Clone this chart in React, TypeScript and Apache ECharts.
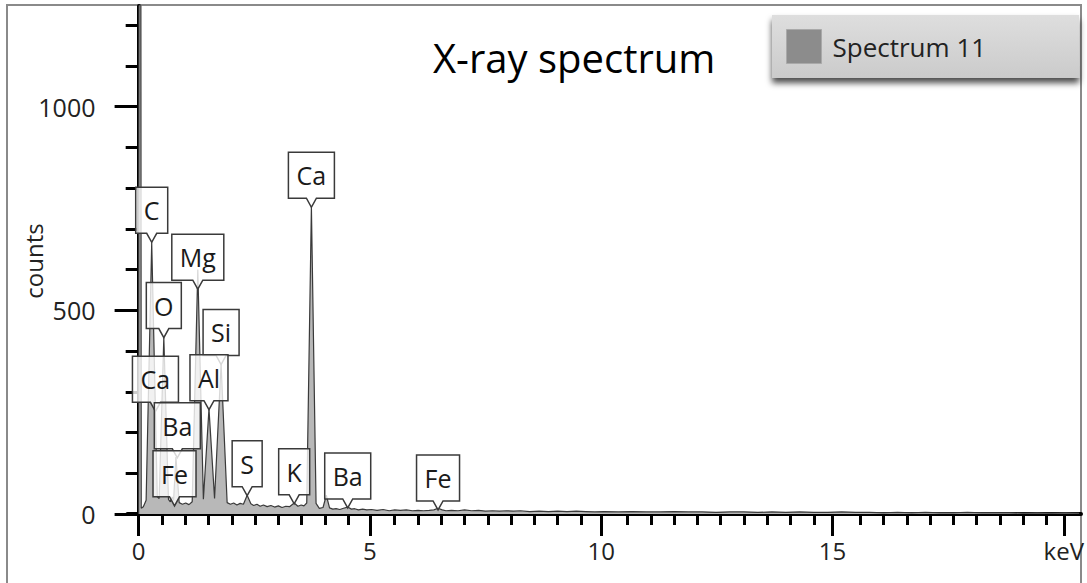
import React, { useEffect, useRef } from "react";
import * as echarts from "echarts";

// Spectrum: [energy keV, counts]
const spectrum: [number, number][] = [
  [0.0, 0], [0.025, 5000], [0.055, 14], [0.1, 18], [0.16, 34], [0.28, 667], [0.4, 42],
  [0.44, 38], [0.54, 433], [0.64, 36], [0.68, 30], [0.72, 42], [0.75, 34], [0.8, 140],
  [0.87, 28], [0.94, 24], [1.01, 27], [1.08, 23], [1.15, 30], [1.27, 600], [1.39, 36],
  [1.51, 258], [1.63, 38], [1.77, 368], [1.9, 28], [1.97, 24], [2.04, 27], [2.11, 22],
  [2.18, 26], [2.25, 24], [2.33, 46], [2.41, 25], [2.47, 21], [2.54, 24], [2.61, 19],
  [2.68, 22], [2.76, 18], [2.84, 21], [2.92, 17], [3.0, 20], [3.08, 16], [3.16, 19],
  [3.24, 18], [3.34, 27], [3.42, 19], [3.49, 22], [3.55, 20], [3.61, 27], [3.71, 755],
  [3.81, 26], [3.88, 14], [3.96, 16], [4.03, 46], [4.1, 15], [4.17, 12], [4.24, 13],
  [4.32, 11], [4.4, 14], [4.49, 17], [4.57, 12], [4.64, 13], [4.72, 10], [4.81, 12],
  [4.9, 10], [5.0, 11], [5.12, 9], [5.25, 11], [5.38, 8], [5.5, 10], [5.62, 9],
  [5.75, 10], [5.88, 8], [6.0, 9], [6.12, 8], [6.24, 9], [6.34, 10], [6.43, 14],
  [6.52, 10], [6.6, 8], [6.72, 9], [6.86, 8], [7.0, 10], [7.15, 8], [7.3, 9], [7.45, 7],
  [7.6, 8], [7.75, 7], [7.9, 8], [8.05, 7], [8.2, 8], [8.4, 6], [8.6, 7], [8.8, 6],
  [9.0, 7], [9.2, 6], [9.4, 7], [9.6, 6], [9.8, 5], [10.0, 6], [10.3, 5], [10.6, 6],
  [10.9, 5], [11.2, 5], [11.5, 6], [11.8, 5], [12.1, 5], [12.4, 4], [12.7, 5], [13.0, 5],
  [13.3, 4], [13.6, 5], [13.9, 4], [14.2, 5], [14.5, 4], [14.8, 4], [15.1, 5], [15.4, 4],
  [15.7, 4], [16.0, 3], [16.3, 4], [16.6, 3], [16.9, 4], [17.2, 3], [17.5, 3], [17.8, 4],
  [18.1, 3], [18.4, 3], [18.7, 3], [19.0, 2], [19.3, 3], [19.6, 2], [19.9, 3], [20.2, 2],
];

// Peak identification labels: element, energy (keV), height of the pointer tip (counts)
const peakLabels = ["C", "Mg", "O", "Si", "Ca", "Al", "Ba", "Fe", "S", "K", "Ca", "Ba", "Fe"];
const peakLabelKeV = [0.28, 1.27, 0.54, 1.77, 0.36, 1.51, 0.83, 0.77, 2.33, 3.34, 3.71, 4.49, 6.43];
const peakLabelCounts = [667, 552, 433, 367, 252, 256, 138, 20, 45, 25, 753, 15, 10];

const xMajorTicks = [0, 5, 10, 15, 20];
const xMinorTicks = [
  0.5, 1, 1.5, 2, 2.5, 3, 3.5, 4, 4.5, 5.5, 6, 6.5, 7, 7.5, 8, 8.5, 9, 9.5,
  10.5, 11, 11.5, 12, 12.5, 13, 13.5, 14, 14.5, 15.5, 16, 16.5, 17, 17.5, 18, 18.5, 19, 19.5,
];
const yMajorTicks = [0, 500, 1000];
const yMinorTicks = [100, 200, 300, 400, 600, 700, 800, 900, 1100, 1200];

const seriesName = "Spectrum 11";
const chartTitle = "X-ray spectrum";
const yName = "counts";
const xUnit = "keV";

const FONT = '"Open Sans", "Noto Sans", sans-serif';

export default function App() {
  const ref = useRef<HTMLDivElement>(null);

  useEffect(() => {
    document.body.style.margin = "0";
    const el = ref.current!;
    const chart = echarts.init(el, undefined, { renderer: "svg" });

    const measureCtx = document.createElement("canvas").getContext("2d")!;
    const labelFont = `25px ${FONT}`;
    measureCtx.font = labelFont;

    const xMin = -0.24;
    const xMax = 20.24;
    const yMin = 0;
    const yMax = 1247;
    const gridPos = { left: 127.5, right: 6, top: 6, bottom: 69 };

    const option: any = {
      animation: false,
      backgroundColor: "#ffffff",
      title: {
        text: chartTitle,
        left: 428,
        top: 32,
        textStyle: { fontFamily: FONT, fontSize: 40, fontWeight: "normal", color: "#000" },
      },
      legend: {
        data: [{ name: seriesName, icon: "rect" }],
        left: 772,
        top: 15,
        padding: [14, 93, 14, 14],
        itemWidth: 35,
        itemHeight: 34,
        selectedMode: false,
        backgroundColor: new echarts.graphic.LinearGradient(0, 0, 0, 1, [
          { offset: 0, color: "#dedede" },
          { offset: 1, color: "#cbcbcb" },
        ]),
        shadowColor: "rgba(0,0,0,0.7)",
        shadowBlur: 6,
        shadowOffsetY: 5,
        itemStyle: { color: "#8c8c8c", borderColor: "#a9a9a9", borderWidth: 1 },
        textStyle: { fontFamily: FONT, fontSize: 26, color: "#222", padding: [0, 0, 0, 6] },
      },
      grid: [
        { ...gridPos },
        { ...gridPos },
      ],
      xAxis: [
        {
          type: "value",
          gridIndex: 0,
          min: xMin,
          max: xMax,
          axisLine: { show: true, lineStyle: { color: "#000", width: 4 } },
          axisTick: { show: true, customValues: xMinorTicks, length: 11, lineStyle: { color: "#000", width: 3 } },
          axisLabel: { show: false },
          splitLine: { show: false },
        },
        {
          type: "value",
          gridIndex: 1,
          min: xMin,
          max: xMax,
          axisLine: { show: false },
          axisTick: { show: true, customValues: xMajorTicks, length: 22, lineStyle: { color: "#000", width: 3 } },
          axisLabel: {
            show: true,
            customValues: xMajorTicks,
            margin: 24,
            fontFamily: FONT,
            fontSize: 24,
            color: "#222",
            formatter: (v: number) => (v === 20 ? xUnit : String(v)),
          },
          splitLine: { show: false },
        },
      ],
      yAxis: [
        {
          type: "value",
          gridIndex: 0,
          min: yMin,
          max: yMax,
          axisLine: { show: true, lineStyle: { color: "#000", width: 4 } },
          axisTick: { show: true, customValues: yMinorTicks, length: 13, lineStyle: { color: "#000", width: 3 } },
          axisLabel: { show: false },
          splitLine: { show: false },
        },
        {
          type: "value",
          gridIndex: 1,
          min: yMin,
          max: yMax,
          axisLine: { show: false },
          axisTick: { show: true, customValues: yMajorTicks, length: 24, lineStyle: { color: "#000", width: 3 } },
          axisLabel: {
            show: true,
            customValues: yMajorTicks,
            margin: 32,
            fontFamily: FONT,
            fontSize: 25,
            color: "#222",
            formatter: (v: number) => String(v),
          },
          splitLine: { show: false },
        },
      ],
      graphic: [
        {
          type: "rect",
          shape: { x: 7, y: 5, width: 1074, height: 620 },
          style: { fill: "none", stroke: "#8a8a8a", lineWidth: 2 },
          silent: true,
          z: 0,
        },
        {
          type: "text",
          x: 33,
          y: 261,
          rotation: Math.PI / 2,
          style: {
            text: yName,
            font: `24px ${FONT}`,
            fill: "#222",
            align: "center",
            verticalAlign: "middle",
          },
        },
      ],
      series: [
        {
          name: seriesName,
          type: "line",
          xAxisIndex: 0,
          yAxisIndex: 0,
          data: spectrum,
          symbol: "none",
          clip: true,
          itemStyle: { color: "#8c8c8c" },
          lineStyle: { color: "#3a3a3a", width: 1.2 },
          areaStyle: { color: "#b8b8b8", opacity: 1 },
          z: 2,
        },
        {
          name: "labels",
          type: "custom",
          xAxisIndex: 0,
          yAxisIndex: 0,
          clip: false,
          z: 3,
          data: peakLabels.map((n, i) => [peakLabelKeV[i], peakLabelCounts[i]]),
          renderItem: (params: any, api: any) => {
            const pt = api.coord([api.value(0), api.value(1)]);
            const name = peakLabels[params.dataIndex];
            const w = Math.round(measureCtx.measureText(name).width) + 16;
            const tx = pt[0];
            const ty = pt[1];
            const yb = ty - 9;
            const yt = yb - 46;
            const xl = tx - w / 2;
            const xr = tx + w / 2;
            return {
              type: "group",
              children: [
                {
                  type: "polygon",
                  shape: {
                    points: [
                      [xl, yt], [xr, yt], [xr, yb], [tx + 5, yb], [tx, ty], [tx - 5, yb], [xl, yb],
                    ],
                  },
                  style: { fill: "rgba(255,255,255,0.8)", stroke: "#3a3a3a", lineWidth: 1.5 },
                },
                {
                  type: "text",
                  x: tx,
                  y: (yt + yb) / 2,
                  style: {
                    text: name,
                    font: labelFont,
                    fill: "#1a1a1a",
                    align: "center",
                    verticalAlign: "middle",
                  },
                },
              ],
            };
          },
        },
      ],
    };

    chart.setOption(option);
    return () => chart.dispose();
  }, []);

  return (
    <div
      ref={ref}
      style={{ position: "fixed", left: 0, top: 0, width: 1087, height: 583, background: "#fff" }}
    />
  );
}
